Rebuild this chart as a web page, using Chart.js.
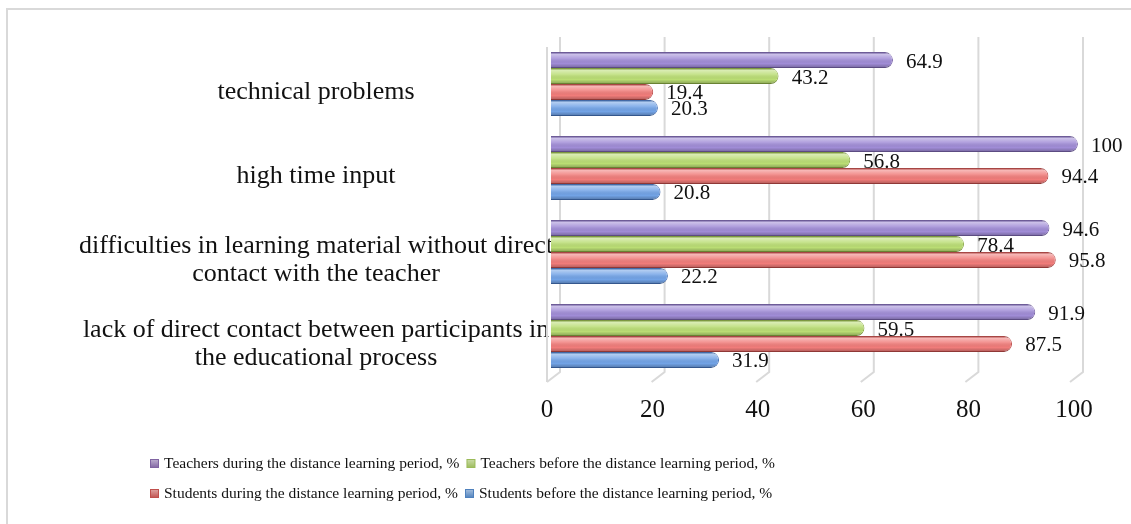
<!DOCTYPE html>
<html><head><meta charset="utf-8">
<script src="https://cdn.jsdelivr.net/npm/chart.js@4/dist/chart.umd.min.js"></script>
<style>html,body{margin:0;padding:0;background:#fff;overflow:hidden;}#wrap{width:1131px;height:524px;position:relative;}</style>
</head><body><div id="wrap"><canvas id="c" width="1131" height="524"></canvas></div>
<script>
const categories = [
  "technical problems",
  "high time input",
  ["difficulties in learning material without direct", "contact with the teacher"],
  ["lack of direct contact between participants in", "the educational process"]
];
const seriesNames = [
  "Teachers during the distance learning period, %",
  "Teachers before the distance learning period, %",
  "Students during the distance learning period, %",
  "Students before the distance learning period, %"
];
const teachersDuring = [64.9, 100, 94.6, 91.9];
const teachersBefore = [43.2, 56.8, 78.4, 59.5];
const studentsDuring = [19.4, 94.4, 95.8, 87.5];
const studentsBefore = [20.3, 20.8, 22.2, 31.9];
const xTickValues = [0, 20, 40, 60, 80, 100];

const fills   = ['#A08CD6', '#BADD74', '#F07C7A', '#72A3E6'];
const borders = ['#7A65AC', '#8CAD44', '#BF4A48', '#4674BD'];
const legendColors = ['#8064A2', '#9BBB59', '#C0504D', '#4F81BD'];
const FONT = "'Liberation Serif','Times New Roman',serif";

const framePlugin = {
  id: 'frame',
  beforeDraw(chart) {
    const ctx = chart.ctx;
    ctx.save();
    ctx.fillStyle = '#fff';
    ctx.fillRect(0, 0, chart.width, chart.height);
    ctx.strokeStyle = '#d9d9d9';
    ctx.lineWidth = 2;
    ctx.beginPath();
    ctx.moveTo(7, chart.height); ctx.lineTo(7, 9); ctx.lineTo(chart.width, 9);
    ctx.stroke();
    ctx.restore();
  }
};

const gridPlugin = {
  id: 'grid3d',
  beforeDatasetsDraw(chart) {
    const ctx = chart.ctx, xs = chart.scales.x, area = chart.chartArea;
    ctx.save();
    ctx.strokeStyle = '#d9d9d9';
    ctx.lineWidth = 2;
    const backTop = area.top - 5, backBot = area.bottom - 6, frontBot = area.bottom + 4;
    xTickValues.forEach(v => {
      const px = xs.getPixelForValue(v);
      const back = px + 9 - v * 0.04;
      const front = back - 13;
      ctx.beginPath();
      ctx.moveTo(back, backTop); ctx.lineTo(back, backBot); ctx.lineTo(front, frontBot);
      ctx.stroke();
    });
    const p0 = xs.getPixelForValue(0) - 4;
    ctx.beginPath();
    ctx.moveTo(p0, area.top + 5); ctx.lineTo(p0, frontBot);
    ctx.stroke();
    ctx.restore();
  }
};

const shadePlugin = {
  id: 'shade',
  afterDatasetsDraw(chart) {
    const ctx = chart.ctx;
    ctx.save();
    chart.data.datasets.forEach((ds, di) => {
      const meta = chart.getDatasetMeta(di);
      meta.data.forEach((el, i) => {
        const {x, y, base, height} = el.getProps(['x', 'y', 'base', 'height'], true);
        const top = y - height / 2, bot = y + height / 2;
        const r = Math.min(height / 2, 8);
        const g = ctx.createLinearGradient(0, top, 0, bot);
        g.addColorStop(0, 'rgba(0,0,0,0.10)');
        g.addColorStop(0.15, 'rgba(255,255,255,0.45)');
        g.addColorStop(0.42, 'rgba(255,255,255,0.15)');
        g.addColorStop(0.72, 'rgba(0,0,0,0.0)');
        g.addColorStop(1, 'rgba(0,0,0,0.28)');
        ctx.fillStyle = g;
        ctx.beginPath();
        ctx.moveTo(base, top);
        ctx.lineTo(x - r, top);
        ctx.arcTo(x, top, x, top + r, r);
        ctx.lineTo(x, bot - r);
        ctx.arcTo(x, bot, x - r, bot, r);
        ctx.lineTo(base, bot);
        ctx.closePath();
        ctx.fill();
        ctx.fillStyle = '#111';
        ctx.font = '21px ' + FONT;
        ctx.textAlign = 'left';
        ctx.textBaseline = 'middle';
        ctx.fillText(String(ds.data[i]), x + 13, y + 2);
      });
    });
    ctx.restore();
  }
};

const legendPlugin = {
  id: 'customLegend',
  afterDraw(chart) {
    const ctx = chart.ctx;
    const rows = [[0, 1], [2, 3]];
    const rowY = [464, 494];
    ctx.save();
    ctx.font = '15.5px ' + FONT;
    ctx.textBaseline = 'middle';
    ctx.textAlign = 'left';
    rows.forEach((row, ri) => {
      let x = 150;
      const y = rowY[ri];
      row.forEach(di => {
        const c = legendColors[di];
        ctx.fillStyle = c;
        ctx.fillRect(x, y - 5, 9, 9);
        const g = ctx.createLinearGradient(0, y - 5, 0, y + 4);
        g.addColorStop(0, 'rgba(255,255,255,0.5)');
        g.addColorStop(1, 'rgba(255,255,255,0)');
        ctx.fillStyle = g;
        ctx.fillRect(x + 1, y - 4, 7, 7);
        ctx.fillStyle = '#111';
        const label = chart.data.datasets[di].label;
        ctx.fillText(label, x + 14, y);
        x += 14 + ctx.measureText(label).width + 7;
      });
    });
    ctx.restore();
  }
};

const seriesValues = [teachersDuring, teachersBefore, studentsDuring, studentsBefore];

new Chart(document.getElementById('c'), {
  type: 'bar',
  data: {
    labels: categories,
    datasets: seriesValues.map((vals, i) => ({
      label: seriesNames[i],
      data: vals,
      backgroundColor: fills[i],
      borderColor: borders[i],
      borderWidth: 1,
      borderRadius: 8,
      borderSkipped: 'start',
      categoryPercentage: 0.76,
      barPercentage: 1.0
    }))
  },
  options: {
    indexAxis: 'y',
    responsive: false,
    animation: false,
    devicePixelRatio: 1,
    layout: { padding: { top: 42, right: 53, bottom: 96, left: 0 } },
    plugins: { legend: { display: false }, tooltip: { enabled: false } },
    scales: {
      x: {
        type: 'linear', min: 0, max: 100,
        afterBuildTicks: s => { s.ticks = xTickValues.map(v => ({ value: v })); },
        grid: { display: false, drawTicks: false, tickLength: 0 },
        border: { display: false },
        ticks: { font: { family: FONT, size: 25 }, color: '#111', padding: 17, labelOffset: -4, maxRotation: 0 },
        afterFit: s => { s.height = 50; }
      },
      y: {
        type: 'category',
        grid: { display: false, drawTicks: false, tickLength: 0 },
        border: { display: false },
        ticks: { font: { family: FONT, size: 26, lineHeight: 1.08 }, color: '#111', padding: -2, crossAlign: 'center', labelOffset: 8 },
        afterFit: s => { s.width = 551; }
      }
    }
  },
  plugins: [framePlugin, gridPlugin, shadePlugin, legendPlugin]
});
</script>
</body></html>
